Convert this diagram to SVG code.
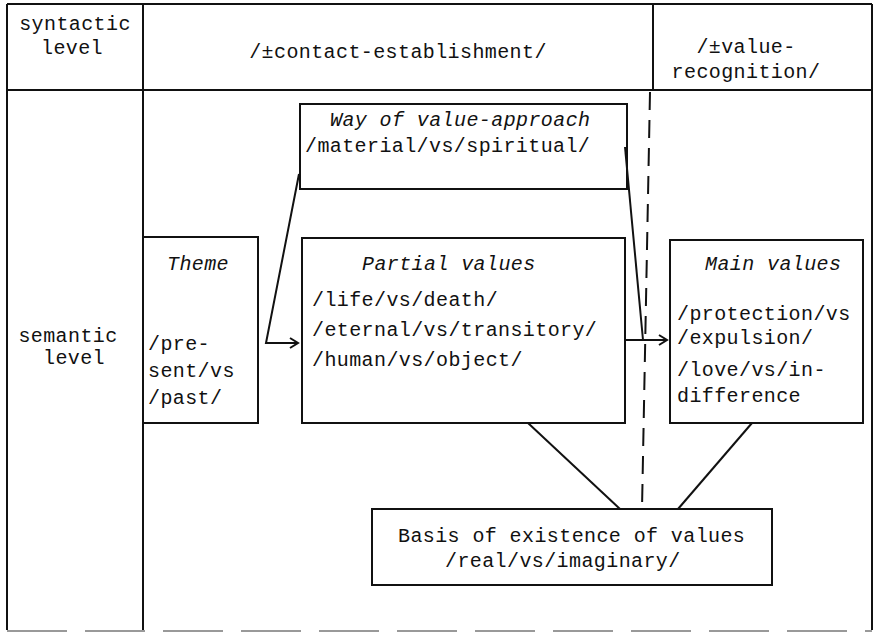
<svg xmlns="http://www.w3.org/2000/svg" width="875" height="633" viewBox="0 0 875 633">
<defs>
<style>
.t{font-family:"Liberation Mono","Courier New",monospace;font-size:20px;letter-spacing:0.4px;fill:#111}
.i{font-family:"Liberation Mono","Courier New",monospace;font-size:20px;letter-spacing:0.4px;font-style:italic;fill:#111}
.ln{stroke:#111;stroke-width:2;fill:none}
.box{stroke:#111;stroke-width:2;fill:none}
</style>
<marker id="arr" markerWidth="12" markerHeight="12" refX="10" refY="6" orient="auto" markerUnits="userSpaceOnUse">
<path d="M2,1 L10,6 L2,11" fill="none" stroke="#111" stroke-width="2"/>
</marker>
</defs>
<rect width="875" height="633" fill="#fff"/>
<g id="table">
<path class="ln" d="M7,4 H872 M7,4 V630 M872,4 V630 M143,4 V630 M653,4 V90 M7,90 H872"/>
<path d="M7,631 H872" stroke="#999" stroke-width="2" stroke-dasharray="60 18"/>
<text class="t" x="75" y="30" text-anchor="middle">syntactic</text>
<text class="t" x="72" y="54" text-anchor="middle">level</text>
<text class="t" x="398" y="58" text-anchor="middle">/±contact-establishment/</text>
<text class="t" x="746" y="53" text-anchor="middle">/±value-</text>
<text class="t" x="746" y="78" text-anchor="middle">recognition/</text>
<text class="t" x="68" y="342" text-anchor="middle">semantic</text>
<text class="t" x="74" y="364" text-anchor="middle">level</text>
</g>
<g id="way">
<rect class="box" x="300" y="104" width="327" height="85"/>
<text class="i" x="330" y="126">Way of value-approach</text>
<text class="t" x="305" y="152">/material/vs/spiritual/</text>
</g>
<g id="theme">
<rect class="box" x="143" y="237" width="115" height="186"/>
<text class="i" x="167" y="270">Theme</text>
<text class="t" x="148" y="350">/pre-</text>
<text class="t" x="148" y="377">sent/vs</text>
<text class="t" x="148" y="404">/past/</text>
</g>
<g id="partial">
<rect class="box" x="302" y="238" width="323" height="185"/>
<text class="i" x="362" y="270">Partial values</text>
<text class="t" x="312" y="306">/life/vs/death/</text>
<text class="t" x="312" y="336">/eternal/vs/transitory/</text>
<text class="t" x="312" y="366">/human/vs/object/</text>
</g>
<g id="main">
<rect class="box" x="670" y="240" width="193" height="183"/>
<text class="i" x="705" y="270">Main values</text>
<text class="t" x="677" y="320">/protection/vs</text>
<text class="t" x="677" y="344"> /expulsion/</text>
<text class="t" x="677" y="376">/love/vs/in-</text>
<text class="t" x="677" y="402">difference</text>
</g>
<g id="basis">
<rect class="box" x="372" y="509" width="400" height="76"/>
<text class="t" x="398" y="542">Basis of existence of values</text>
<text class="t" x="445" y="567">/real/vs/imaginary/</text>
</g>
<g id="connectors">
<polyline class="ln" points="299,174 266,343 298,343" marker-end="url(#arr)"/>
<line class="ln" x1="625" y1="147" x2="643" y2="340"/>
<line class="ln" x1="625" y1="340" x2="667" y2="340" marker-end="url(#arr)"/>
<line class="ln" x1="528" y1="423" x2="620" y2="509"/>
<line class="ln" x1="752" y1="423" x2="678" y2="509"/>
<line x1="650" y1="92" x2="642" y2="509" stroke="#111" stroke-width="2" stroke-dasharray="18 10"/>
</g>
</svg>
